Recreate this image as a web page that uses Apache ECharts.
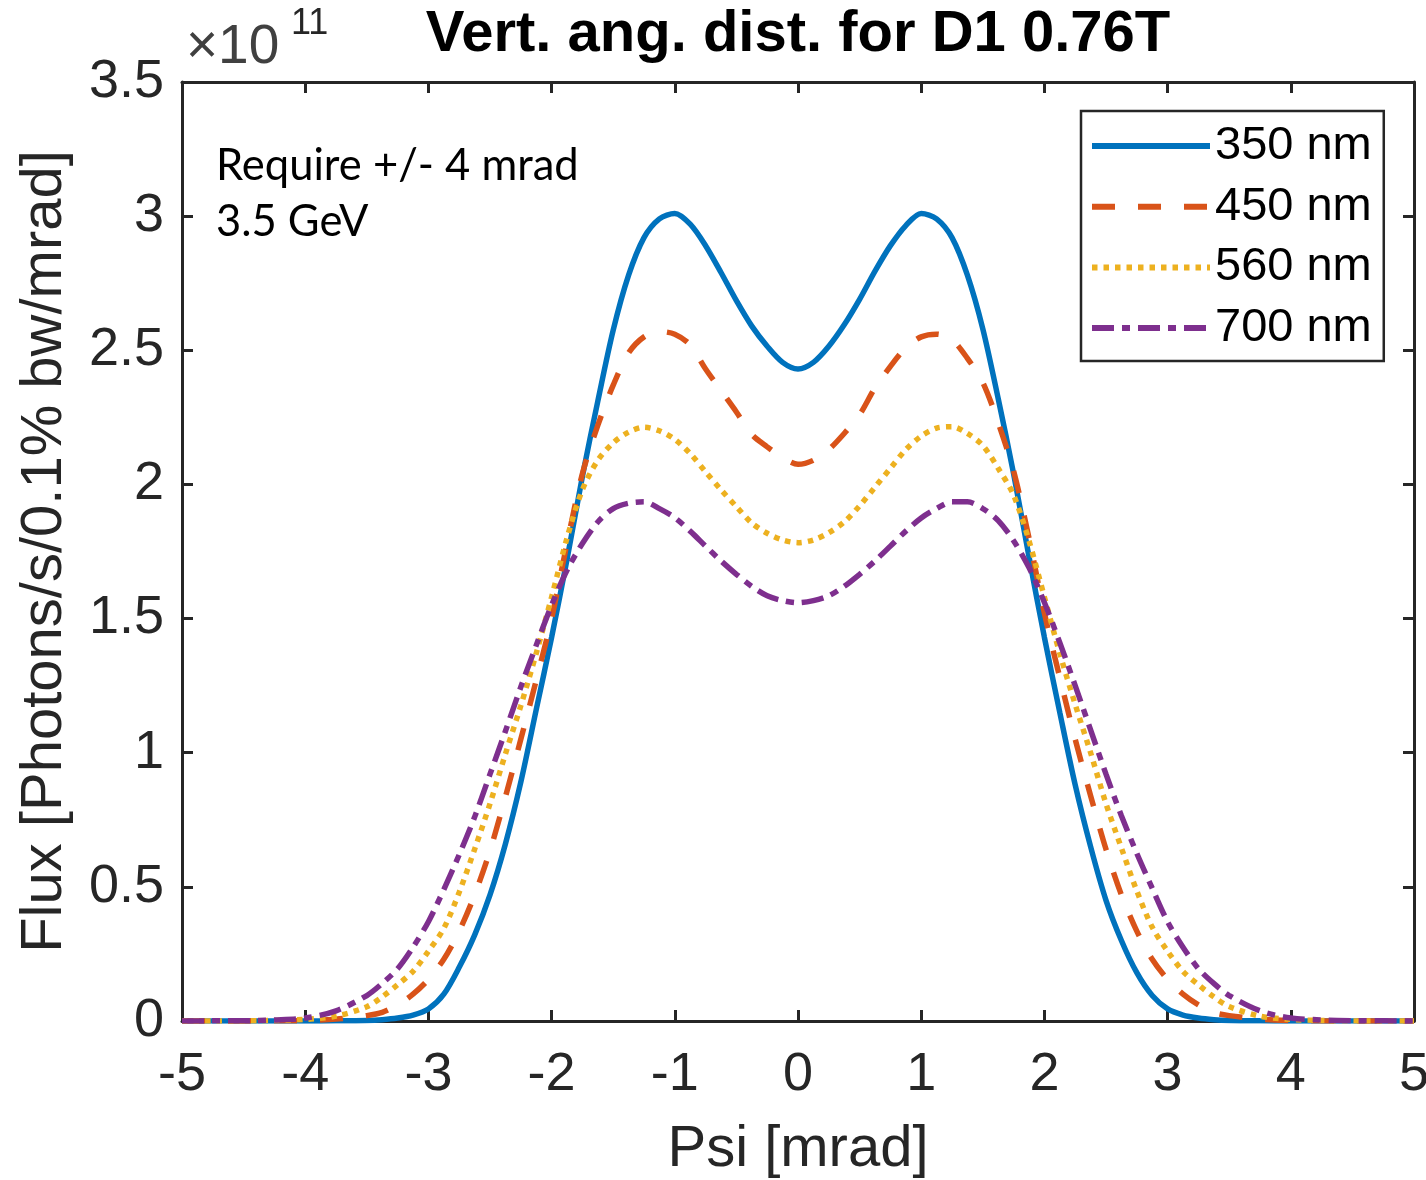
<!DOCTYPE html>
<html>
<head>
<meta charset="utf-8">
<script src="https://cdn.jsdelivr.net/npm/echarts@6/dist/echarts.min.js"></script>
<style>
html,body{margin:0;padding:0;background:#fff;overflow:hidden;}
#c{width:1426px;height:1180px;}
</style>
</head>
<body>
<div id="c"></div>
<script>
// ---- data (flux in units of 1e11 photons/s/0.1% bw/mrad) ----
const psi = [-5, -4.75, -4.5, -4.25, -4, -3.75,
  -3.5, -3.375, -3.25, -3.125, -3, -2.875, -2.75, -2.625, -2.5, -2.375, -2.25, -2.125,
  -2, -1.875, -1.75, -1.625, -1.5, -1.375, -1.25, -1.125, -1, -0.875, -0.75, -0.625, -0.5, -0.375, -0.25, -0.125,
  0, 0.125, 0.25, 0.375, 0.5, 0.625, 0.75, 0.875, 1, 1.125, 1.25, 1.375, 1.5, 1.625, 1.75, 1.875,
  2, 2.125, 2.25, 2.375, 2.5, 2.625, 2.75, 2.875, 3, 3.125, 3.25, 3.375, 3.5,
  3.75, 4, 4.25, 4.5, 4.75, 5];

const flux350 = [0, 0, 0, 0, 0, 0.0005,
  0.002, 0.005, 0.011, 0.022, 0.045, 0.10, 0.20, 0.32, 0.47, 0.66, 0.89, 1.16,
  1.43, 1.72, 2.03, 2.31, 2.575, 2.78, 2.92, 2.99, 3.01, 2.97, 2.89, 2.79, 2.685, 2.59, 2.515, 2.455,
  2.43, 2.455, 2.515, 2.595, 2.69, 2.795, 2.89, 2.965, 3.01, 2.99, 2.92, 2.78, 2.58, 2.32, 2.04, 1.73,
  1.43, 1.15, 0.88, 0.65, 0.45, 0.30, 0.18, 0.095, 0.045, 0.022, 0.011, 0.005, 0.002,
  0.0005, 0, 0, 0, 0, 0];

const flux450 = [0, 0, 0, 0.0005, 0.002, 0.007,
  0.02, 0.032, 0.06, 0.10, 0.155, 0.23, 0.335, 0.47, 0.635, 0.835, 1.05, 1.27,
  1.50, 1.78, 2.04, 2.22, 2.37, 2.49, 2.55, 2.57, 2.56, 2.52, 2.43, 2.35, 2.27, 2.186, 2.14, 2.10,
  2.075, 2.09, 2.13, 2.19, 2.26, 2.36, 2.44, 2.51, 2.55, 2.56, 2.54, 2.47, 2.38, 2.23, 2.05, 1.80,
  1.52, 1.28, 1.05, 0.84, 0.64, 0.47, 0.335, 0.23, 0.155, 0.10, 0.06, 0.032, 0.02,
  0.007, 0.002, 0.0005, 0, 0, 0];

const flux560 = [0, 0, 0.0005, 0.002, 0.006, 0.018,
  0.053, 0.09, 0.135, 0.185, 0.26, 0.345, 0.48, 0.64, 0.81, 0.995, 1.175, 1.37,
  1.58, 1.80, 1.98, 2.09, 2.155, 2.195, 2.213, 2.20, 2.168, 2.115, 2.047, 1.98, 1.917, 1.856, 1.818, 1.793,
  1.783, 1.793, 1.82, 1.86, 1.92, 1.99, 2.06, 2.13, 2.18, 2.21, 2.215, 2.19, 2.145, 2.06, 1.96, 1.79,
  1.58, 1.37, 1.18, 1.0, 0.81, 0.645, 0.485, 0.35, 0.26, 0.185, 0.135, 0.09, 0.054,
  0.018, 0.006, 0.002, 0.0005, 0, 0];

const flux700 = [0, 0.0005, 0.001, 0.004, 0.011, 0.038,
  0.095, 0.14, 0.195, 0.275, 0.37, 0.49, 0.62, 0.76, 0.92, 1.08, 1.245, 1.40,
  1.55, 1.68, 1.78, 1.86, 1.91, 1.93, 1.935, 1.91, 1.876, 1.826, 1.77, 1.715, 1.665, 1.62, 1.585, 1.567,
  1.559, 1.567, 1.585, 1.62, 1.665, 1.715, 1.77, 1.826, 1.875, 1.91, 1.935, 1.935, 1.91, 1.865, 1.79, 1.69,
  1.56, 1.41, 1.25, 1.085, 0.92, 0.765, 0.625, 0.495, 0.37, 0.275, 0.195, 0.14, 0.095,
  0.038, 0.011, 0.004, 0.001, 0.0005, 0];

const seriesNames = ['350 nm', '450 nm', '560 nm', '700 nm'];
const xTicks = [-5, -4, -3, -2, -1, 0, 1, 2, 3, 4, 5];
const yTicks = [0, 0.5, 1, 1.5, 2, 2.5, 3, 3.5];

const titleText = 'Vert. ang. dist. for D1 0.76T';
const xLabel = 'Psi [mrad]';
const yLabel = 'Flux [Photons/s/0.1% bw/mrad]';
const exponentBase = '\u00D710';
const exponentPower = '11';
const noteLines = ['Require +/- 4 mrad', '3.5 GeV'];

// ---- styling ----
const AX = '#262626';
const FONT = '"Liberation Sans", Arial, Helvetica, sans-serif';
const NOTE_FONT = 'Lato, "Open Sans", sans-serif';
const colors = ['#0072BD', '#D95319', '#EDB120', '#7E2F8E'];
const dashes = ['solid', [23, 23], [5.5, 6], [22, 8, 8, 8]];
const LW = 5.5;

const fluxes = [flux350, flux450, flux560, flux700];
const pairs = arr => psi.map((x, i) => [x, arr[i]]);

const xMin = xTicks[0], xMax = xTicks[xTicks.length - 1], xInt = xTicks[1] - xTicks[0];
const yMin = yTicks[0], yMax = yTicks[yTicks.length - 1], yInt = yTicks[1] - yTicks[0];

function baseAxisLine() { return { show: true, onZero: false, lineStyle: { color: AX, width: 3 } }; }
function baseTick() { return { show: true, inside: true, length: 11, lineStyle: { color: AX, width: 3 } }; }

const chart = echarts.init(document.getElementById('c'), null, { renderer: 'canvas', width: 1426, height: 1180 });

function txt(text, x, y, font, fill, align, valign) {
  return {
    type: 'text', silent: true, z: 100,
    style: {
      text: text, x: x, y: y, font: font, fill: fill,
      textAlign: align, textVerticalAlign: valign,
      align: align, verticalAlign: valign
    }
  };
}

const option = {
  animation: false,
  backgroundColor: '#ffffff',
  grid: { left: 182, top: 82, right: 12, bottom: 159, containLabel: false, outerBoundsMode: 'none' },
  xAxis: [
    {
      type: 'value', min: xMin, max: xMax, interval: xInt, position: 'bottom',
      axisLine: baseAxisLine(), axisTick: baseTick(),
      axisLabel: { fontSize: 54, color: AX, fontFamily: FONT, margin: 27, showMinLabel: true, showMaxLabel: true, hideOverlap: false },
      splitLine: { show: false },
      name: xLabel, nameLocation: 'middle', nameGap: 100,
      nameTextStyle: { fontSize: 58, color: AX, fontFamily: FONT }
    },
    {
      type: 'value', min: xMin, max: xMax, interval: xInt, position: 'top',
      axisLine: baseAxisLine(), axisTick: baseTick(),
      axisLabel: { show: false }, splitLine: { show: false }
    }
  ],
  yAxis: [
    {
      type: 'value', min: yMin, max: yMax, interval: yInt, position: 'left',
      axisLine: baseAxisLine(), axisTick: baseTick(),
      axisLabel: { fontSize: 54, color: AX, fontFamily: FONT, margin: 18, showMinLabel: true, showMaxLabel: true },
      splitLine: { show: false },
      name: yLabel, nameLocation: 'middle', nameGap: 108,
      nameTextStyle: { fontSize: 58, color: AX, fontFamily: FONT }
    },
    {
      type: 'value', min: yMin, max: yMax, interval: yInt, position: 'right',
      axisLine: baseAxisLine(), axisTick: baseTick(),
      axisLabel: { show: false }, splitLine: { show: false }
    }
  ],
  legend: {
    orient: 'vertical', left: 1081, top: 111,
    padding: [11, 12, 9, 8], itemGap: 12.7,
    itemWidth: 118, itemHeight: 48,
    borderColor: AX, borderWidth: 2.5, backgroundColor: '#ffffff',
    textStyle: { fontSize: 47, color: '#000', fontFamily: FONT, lineHeight: 48 },
    lineStyle: { width: 6 },
    itemStyle: { opacity: 0 },
    data: seriesNames
  },
  series: fluxes.map((f, i) => ({
    name: seriesNames[i], type: 'line', xAxisIndex: 0, yAxisIndex: 0,
    data: pairs(f), smooth: 0.3, symbol: 'none', showSymbol: false,
    lineStyle: { color: colors[i], width: LW, type: dashes[i] },
    itemStyle: { color: colors[i] },
    z: 2 + i
  })),
  graphic: [
    txt(titleText, 798, 35, 'bold 58px ' + FONT, '#000', 'center', 'middle'),
    txt(exponentBase, 186, 48, '55px ' + FONT, '#404040', 'left', 'middle'),
    txt(exponentPower, 291, 24, '36px ' + FONT, AX, 'left', 'middle'),
    txt(noteLines[0], 216, 166, '43.5px ' + NOTE_FONT, '#000', 'left', 'middle'),
    txt(noteLines[1], 216, 222, '43.5px ' + NOTE_FONT, '#000', 'left', 'middle')
  ]
};
chart.setOption(option);
</script>
</body>
</html>
